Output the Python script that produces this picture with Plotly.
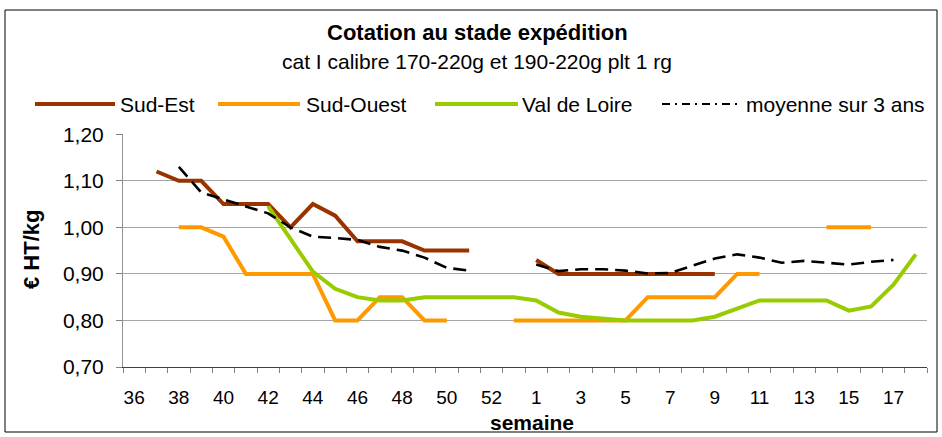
import plotly.graph_objects as go

# ---- data -------------------------------------------------------------
weeks = list(range(36, 54)) + list(range(1, 19))
week_labels = [str(w) for w in weeks]

sud_est = [None, 1.12, 1.10, 1.10, 1.05, 1.05, 1.05, 1.00, 1.05, 1.025,
           0.97, 0.97, 0.97, 0.95, 0.95, 0.95, None, None,
           0.93, 0.90, 0.90, 0.90, 0.90, 0.90, 0.90, 0.90, 0.90,
           None, None, None, None, None, None, None, None, None]

sud_ouest = [None, None, 1.00, 1.00, 0.98, 0.90, 0.90, 0.90, 0.90, 0.80,
             0.80, 0.85, 0.85, 0.80, 0.80, None, None, 0.80,
             0.80, 0.80, 0.80, 0.80, 0.80, 0.85, 0.85, 0.85, 0.85,
             0.90, 0.90, None, None, 1.00, 1.00, 1.00, None, None]

val_de_loire = [None, None, None, None, None, None, 1.045, 0.975, 0.905, 0.868,
                0.85, 0.843, 0.843, 0.85, 0.85, 0.85, 0.85, 0.85,
                0.843, 0.817, 0.808, 0.804, 0.80, 0.80, 0.80, 0.80, 0.808,
                0.825, 0.843, 0.843, 0.843, 0.843, 0.821, 0.83, 0.877, 0.942]

moyenne = [None, None, 1.13, 1.075, 1.06, 1.045, 1.03, 1.00, 0.98, 0.977,
           0.973, 0.958, 0.95, 0.935, 0.913, 0.907, None, None,
           0.92, 0.906, 0.91, 0.91, 0.907, 0.901, 0.902, 0.918, 0.933,
           0.942, 0.935, 0.924, 0.928, 0.924, 0.92, 0.926, 0.93, None]

series_names = ["Sud-Est", "Sud-Ouest", "Val de Loire", "moyenne sur 3 ans"]
series_colors = ["#993300", "#FF9900", "#99CC00", "#000000"]

y_ticks = [0.70, 0.80, 0.90, 1.00, 1.10, 1.20]

# ---- figure -----------------------------------------------------------
FONT = "Liberation Sans, Arial, sans-serif"
x_idx = list(range(len(weeks)))

fig = go.Figure()
all_series = [sud_est, sud_ouest, val_de_loire, moyenne]
for name, vals, col in zip(series_names, all_series, series_colors):
    dashed = name.startswith("moyenne")
    fig.add_trace(go.Scatter(
        x=x_idx, y=vals, mode="lines", name=name,
        connectgaps=False, showlegend=False, hoverinfo="skip",
        line=dict(color=col, width=2.6 if dashed else 4,
                  dash="13px,7px" if dashed else "solid"),
    ))

# plot-area geometry in pixels (for converting decoration positions)
L, R, T, B = 123, 15, 134, 70
W, H = 942, 437
pw, ph = W - L - R, H - T - B


def px(xp):
    return (xp - L) / pw


def py(yp):
    return (H - B - yp) / ph


shapes = []
annotations = []

# outer chart border
shapes.append(dict(type="rect", xref="paper", yref="paper",
                   x0=px(5), x1=px(937), y0=py(432), y1=py(10),
                   line=dict(color="#000000", width=1), layer="below"))

# manual legend
legend_items = [(35, 115, 118), (218, 300, 304), (435, 518, 520), (662, 741, 744)]
for (lx0, lx1, tx), name, col in zip(legend_items, series_names, series_colors):
    dashed = name.startswith("moyenne")
    shapes.append(dict(type="line", xref="paper", yref="paper",
                       x0=px(lx0), x1=px(lx1), y0=py(104), y1=py(104),
                       line=dict(color=col, width=2 if dashed else 4,
                                 dash="8px,5px,2px,5px" if dashed else "solid")))
    annotations.append(dict(text=name, xref="paper", yref="paper",
                            x=px(tx), y=py(104), xanchor="left", yanchor="middle",
                            showarrow=False, font=dict(family=FONT, size=21, color="#000")))

# titles
annotations.append(dict(text="<b>Cotation au stade expédition</b>", xref="paper", yref="paper",
                        x=px(477), y=py(33), xanchor="center", yanchor="middle",
                        showarrow=False, font=dict(family=FONT, size=22, color="#000")))
annotations.append(dict(text="cat I calibre 170-220g et 190-220g plt 1 rg", xref="paper", yref="paper",
                        x=px(477), y=py(61), xanchor="center", yanchor="middle",
                        showarrow=False, font=dict(family=FONT, size=21, color="#000")))
annotations.append(dict(text="<b>€ HT/kg</b>", xref="paper", yref="paper",
                        x=px(31), y=py(250), xanchor="center", yanchor="middle", textangle=-90,
                        showarrow=False, font=dict(family=FONT, size=22, color="#000")))
annotations.append(dict(text="<b>semaine</b>", xref="paper", yref="paper",
                        x=px(532), y=py(422), xanchor="center", yanchor="middle",
                        showarrow=False, font=dict(family=FONT, size=21, color="#000")))

fig.update_layout(
    width=W, height=H,
    margin=dict(l=L, r=R, t=T, b=B, pad=0),
    paper_bgcolor="white", plot_bgcolor="white",
    separators=", ",
    font=dict(family=FONT, size=20, color="#000"),
    shapes=shapes, annotations=annotations,
    showlegend=False,
)

fig.update_xaxes(
    range=[-0.5, len(weeks) - 0.5],
    tickmode="array", tickvals=x_idx[::2], ticktext=week_labels[::2],
    ticks="", showgrid=False, zeroline=False,
    showline=True, linecolor="#404040", linewidth=1.3,
    ticklabelstandoff=13,
    tickfont=dict(family=FONT, size=19, color="#000"),
    minor=dict(tickmode="array", tickvals=[i - 0.5 for i in range(len(weeks) + 1)],
               ticks="outside", ticklen=5, tickcolor="#808080", tickwidth=1, showgrid=False),
)
fig.update_yaxes(
    range=[0.70, 1.2005],
    tickmode="array", tickvals=y_ticks, tickformat=".2f",
    showgrid=True, gridcolor="#a6a6a6", gridwidth=1.3,
    zeroline=False,
    showline=True, linecolor="#909090", linewidth=1,
    ticks="outside", ticklen=6, tickcolor="#808080",
    ticklabelstandoff=8,
    tickfont=dict(family=FONT, size=21, color="#000"),
)

fig.write_html("out.html", config={"displayModeBar": False},
               post_script="document.body.style.margin='0';")
